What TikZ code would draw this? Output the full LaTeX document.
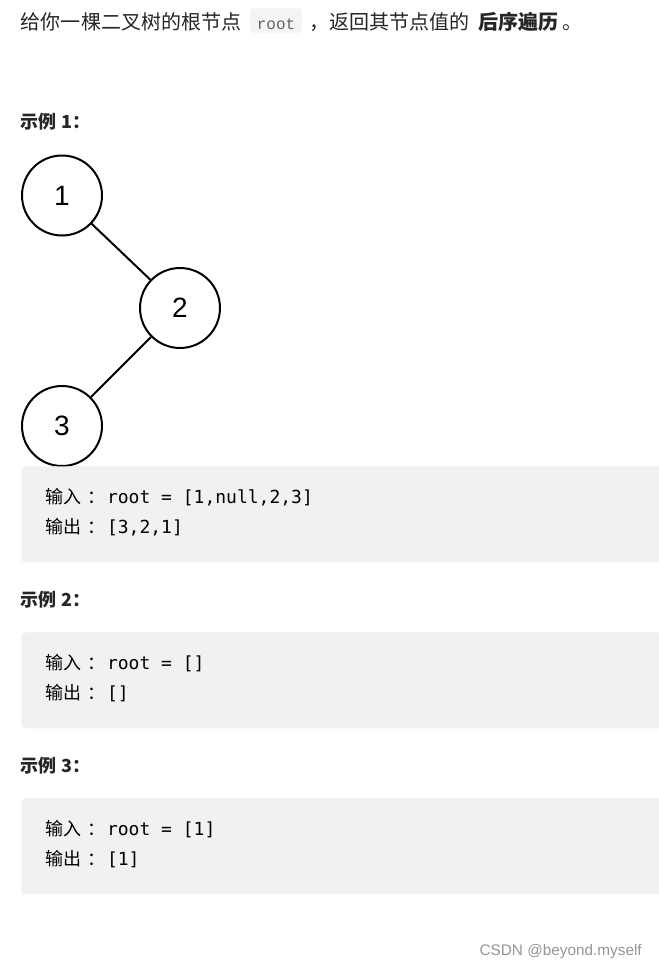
\documentclass[tikz,border=0pt]{standalone}
\usepackage{fontspec}
\setmainfont{Noto Sans CJK SC}
\newfontfamily\cjk{Noto Sans CJK SC}
\newfontfamily\arialf{Liberation Sans}
\newfontfamily\monof{DejaVu Sans Mono}
\newfontfamily\inlinemono{Liberation Mono}
\definecolor{txt}{RGB}{38,38,38}
\definecolor{codebg}{RGB}{240,241,243}
\definecolor{inlinebg}{RGB}{243,244,245}
\definecolor{inlinefg}{RGB}{100,100,100}
\definecolor{wmark}{RGB}{150,150,150}
\newcommand{\cc}{\kern5pt：}
\begin{document}
\begin{tikzpicture}[x=0.75pt,y=-0.75pt,
  plain/.style={inner sep=0pt,outer sep=0pt,anchor=base west,text=txt,font=\cjk\fontsize{15pt}{18pt}\selectfont},
  boldtxt/.style={plain,font=\cjk\bfseries\fontsize{15pt}{18pt}\selectfont},
  heading/.style={plain,font=\cjk\bfseries\fontsize{13.5pt}{16pt}\selectfont},
  codecjk/.style={inner sep=0pt,outer sep=0pt,anchor=base west,text=black,font=\cjk\fontsize{13.5pt}{16pt}\selectfont},
  codemono/.style={inner sep=0pt,outer sep=0pt,anchor=base west,text=black,font=\monof\fontsize{13.5pt}{16pt}\selectfont},
  codebox/.style={fill=codebg,draw=none,rounded corners=3pt,anchor=north west,minimum width=487.5pt,minimum height=72pt,inner sep=0pt},
  treenode/.style={circle,draw=black,line width=1.5pt,minimum size=60pt,inner sep=0pt,font=\arialf\fontsize{21pt}{24pt}\selectfont},
  treeedge/.style={line width=1.5pt,draw=black}
]
\useasboundingbox[fill=white] (0,0) rectangle (658,967);

% title line
\node[plain] (t1) at (21,29.5) {给你一棵二叉树的根节点};
\node[fill=inlinebg,rounded corners=3pt,minimum width=39pt,minimum height=18.75pt,inner sep=0pt] (rootbox) at (276,20.5) {};
\node[inner sep=0pt,anchor=base,text=inlinefg,font=\inlinemono\fontsize{12pt}{14pt}\selectfont] (roottxt) at (276,29.5) {root};
\node[plain] (t2) at (309,29.5) {，返回其节点值的};
\node[boldtxt] (t3) at (478,29.5) {后序遍历};
\node[plain] (t4) at (562,29.5) {。};

% example 1
\node[heading] (h1) at (21,128) {示例 1：};
\node[treenode] (n1) at (62,195.5) {1};
\node[treenode] (n2) at (180,308) {2};
\node[treenode] (n3) at (62,426) {3};
\draw[treeedge] (n1) -- (n2);
\draw[treeedge] (n2) -- (n3);

\node[codebox] (box1) at (21,466) {};
\node[codecjk] (in1) at (45,503) {输入\cc};
\node[codemono] (in1v) at (107,503) {root = [1,null,2,3]};
\node[codecjk] (out1) at (45,533) {输出\cc};
\node[codemono] (out1v) at (107,533) {[3,2,1]};

% example 2
\node[heading] (h2) at (21,606) {示例 2：};
\node[codebox] (box2) at (21,632) {};
\node[codecjk] (in2) at (45,669) {输入\cc};
\node[codemono] (in2v) at (107,669) {root = []};
\node[codecjk] (out2) at (45,699) {输出\cc};
\node[codemono] (out2v) at (107,699) {[]};

% example 3
\node[heading] (h3) at (21,772) {示例 3：};
\node[codebox] (box3) at (21,798) {};
\node[codecjk] (in3) at (45,835) {输入\cc};
\node[codemono] (in3v) at (107,835) {root = [1]};
\node[codecjk] (out3) at (45,865) {输出\cc};
\node[codemono] (out3v) at (107,865) {[1]};

% watermark
\node[inner sep=0pt,anchor=base east,text=wmark,font=\arialf\fontsize{11.5pt}{14pt}\selectfont] (wm) at (642,955) {CSDN @beyond.myself};
\end{tikzpicture}
\end{document}
